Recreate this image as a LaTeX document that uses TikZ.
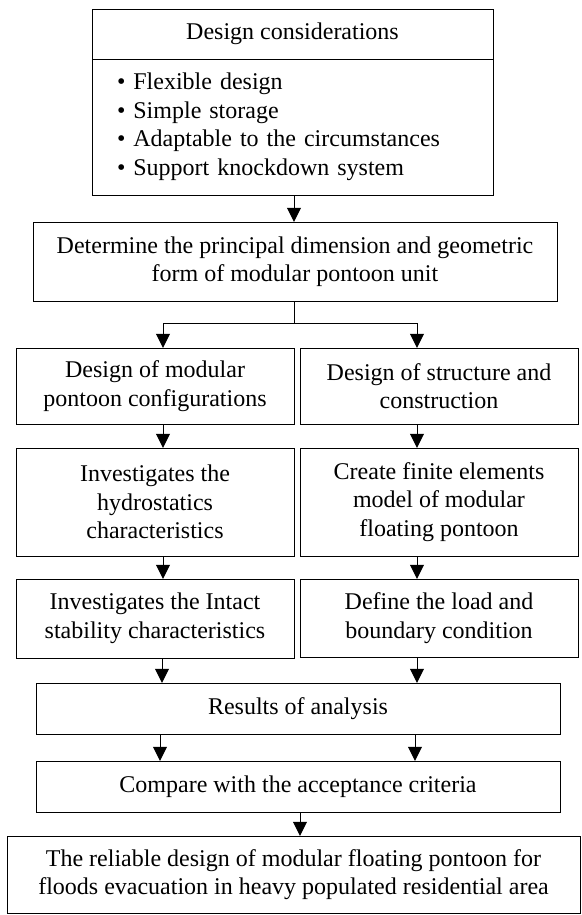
\documentclass[tikz,border=0pt]{standalone}
\usepackage{fontspec}
\setmainfont{Liberation Serif}
\usetikzlibrary{arrows.meta, positioning}
\tikzset{line width=1.5pt, >={Triangle[length=14pt, width=14pt]}, x=1pt, y=-1pt}

\begin{document}
\begin{tikzpicture}[box/.style={draw, rectangle, minimum width=278pt, minimum height=76pt, align=center, inner sep=0pt, font=\fontsize{24}{28.5}\selectfont}]
	\useasboundingbox (0,0) rectangle (581,915);
	\def \lo {8pt} % offset of the left column arrows
	\def \ro {-22pt} % offset of the right column arrows
	\node[box, minimum width=401pt, minimum height=50pt] at (292.5,34) (head) {Design considerations};
	\node[box, minimum width=401pt, minimum height=136pt, text width=351pt, align=left] at (292.5,127) (cons) {\textbullet\ Flexible design\\ \textbullet\ Simple storage\\ \textbullet\ Adaptable to the circumstances\\ \textbullet\ Support knockdown system};
	\node[box, minimum width=524pt, minimum height=79pt] at (295,261.5) (dim) {Determine the principal dimension and geometric\\ form of modular pontoon unit};
	\node[box] at (155,386) (config) {Design of modular\\ pontoon configurations};
	\node[box] at (439,386) (struct) {Design of structure and\\ construction};
	\node[box, minimum height=108pt] at (155,502) (hydro) {Investigates the\\ hydrostatics\\ characteristics};
	\node[box, minimum height=108pt] at (439,502) (fem) {Create finite elements\\ model of modular\\ floating pontoon};
	\node[box, minimum height=79pt] at (155,618.5) (intact) {Investigates the Intact\\ stability characteristics};
	\node[box, minimum height=78pt] at (439,618) (load) {Define the load and\\ boundary condition};
	\node[box, minimum width=524pt, minimum height=51pt] at (298,708.5) (results) {Results of analysis};
	\node[box, minimum width=524pt, minimum height=51pt] at (298,786.5) (compare) {Compare with the acceptance criteria};
	\node[box, minimum width=573pt, minimum height=77pt] at (293.5,874.5) (final) {The reliable design of modular floating pontoon for\\ floods evacuation in heavy populated residential area};
	\coordinate (split) at ([xshift=-1pt, yshift=-22pt]dim.south);
	\draw ([xshift=-1pt]dim.south) -- (split);
	\draw[->] (split) -| ([xshift=\lo]config.north);
	\draw[->] (split) -| ([xshift=\ro]struct.north);
	\path[->]
		([xshift=1.5pt]cons.south) edge ([xshift=-1pt]dim.north)
		([xshift=\lo]config.south) edge ([xshift=\lo]hydro.north)
		([xshift=\ro]struct.south) edge ([xshift=\ro]fem.north)
		([xshift=\lo]hydro.south) edge ([xshift=\lo]intact.north)
		([xshift=\ro]fem.south) edge ([xshift=\ro]load.north)
		([xshift=7pt]intact.south) edge ([xshift=-136pt]results.north)
		([xshift=\ro]load.south) edge ([xshift=119pt]results.north)
		([xshift=-138pt]results.south) edge ([xshift=-138pt]compare.north)
		([xshift=117pt]results.south) edge ([xshift=117pt]compare.north)
		([xshift=2pt]compare.south) edge ([xshift=6.5pt]final.north);
\end{tikzpicture}
\end{document}
